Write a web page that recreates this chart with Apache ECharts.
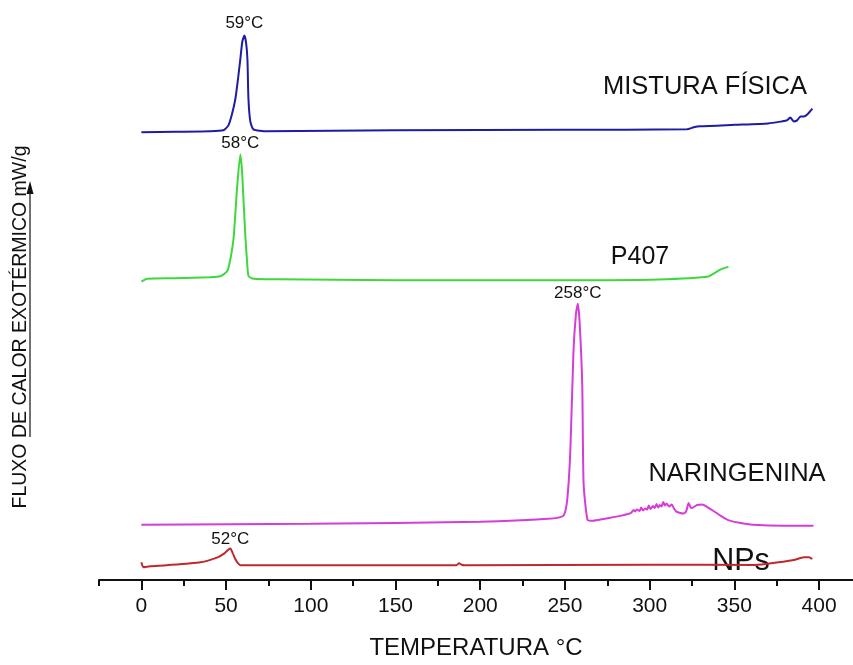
<!DOCTYPE html>
<html>
<head>
<meta charset="utf-8">
<script src="https://cdn.jsdelivr.net/npm/echarts@6/dist/echarts.min.js"></script>
<style>html,body{margin:0;padding:0;background:#fff}#c{width:853px;height:665px}</style>
</head>
<body>
<div id="c"></div>
<script>
// Temperature (°C) vs stacked heat-flow signal (arbitrary offset units)
var mistura = [[0,90.8],[20,90.9],[40,91.0],[48.4,91.2],[51.4,92.2],[53.5,94.5],[55.5,97.6],[57,101.5],[58.4,105.6],[59.6,109.2],[60.8,110.4],[61.8,109],[62.6,105.6],[63.2,97.6],[64.3,93.0],[66.1,91.4],[74,91.0],[150,91.2],[250,91.3],[322,91.4],[326,91.8],[330,92.0],[350,92.3],[370,92.6],[378,93.0],[381,93.2],[383,93.8],[385,93.0],[387,93.2],[389,94.0],[391,94.0],[393,94.4],[396,95.6]];
var p407 = [[0,60.5],[3.5,61.1],[20,61.2],[40,61.4],[46.6,61.6],[50.6,62.6],[52.5,65],[54.5,69.6],[56.5,79.6],[58.4,86.3],[59.4,83],[60.4,76.3],[61.4,69.6],[62.3,65],[63.3,61.6],[66.3,61.1],[80,61.0],[150,60.8],[250,60.8],[300,60.9],[334,61.5],[338,62.2],[342,63.0],[346.5,63.5]];
var naringenina = [[0,11.2],[100,11.4],[200,11.8],[240,12.4],[249,13.0],[251.3,16.2],[253.2,26.4],[255,46.2],[256.5,54],[257.6,56.0],[258.7,52],[260.2,39.6],[261,19.6],[263.3,12.2],[266.2,12.0],[270,12.2],[282.8,13.0],[289,13.6],[290.5,14.2],[291.5,13.9],[292.5,14.3],[294,14.0],[295,14.7],[296,14.1],[297.5,14.5],[298.5,14.3],[299.5,15.1],[300.5,14.4],[302,15.0],[303,14.6],[304,15.4],[305,14.7],[306,15.2],[307,14.9],[308,15.8],[309,15.1],[310,15.5],[311.5,14.9],[313,15.3],[314.5,14.4],[316,13.8],[318,13.6],[320,13.5],[321.5,13.9],[323,15.6],[324.5,14.6],[326,14.8],[328,15.2],[331,15.3],[334,14.8],[337.7,14.0],[342,13.0],[346,12.2],[353,11.6],[361,11.2],[380,11.0],[396.7,11.0]];
var nps = [[0,3.6],[1.2,2.6],[5,2.8],[15,3.0],[35,3.6],[45,4.6],[49,5.4],[51.5,6.2],[52.5,6.4],[54,5.4],[55.5,4.2],[57,3.4],[58.4,3.0],[100,3.0],[186,3.0],[187.5,3.4],[189,3.1],[191,3.0],[300,3.1],[362,3.06],[376,3.6],[385,4.06],[391,4.6],[394,4.6],[396,4.26]];
var seriesNames = ['MISTURA FÍSICA','P407','NARINGENINA','NPs'];
var peakLabels = ['59°C','58°C','258°C','52°C'];
var majorTicks = [0,50,100,150,200,250,300,350,400];
var minorTicks = [-25,25,75,125,175,225,275,325,375];

var FONT = 'Liberation Sans, Arial, sans-serif';
var colors = ['#1c1ca4','#3ed83e','#d63cd6','#c0282c'];
var dataSets = [mistura, p407, naringenina, nps];
var labelGaps = [4, 3, 2, 1];

var chart = echarts.init(document.getElementById('c'));
var series = dataSets.map(function (d, i) {
  return {
    type: 'line', name: seriesNames[i], data: d, xAxisIndex: 0, yAxisIndex: 0,
    showSymbol: false, smooth: 0.2, lineStyle: { color: colors[i], width: 2 },
    itemStyle: { color: colors[i] }, animation: false,
    markPoint: {
      symbol: 'circle', symbolSize: 0, animation: false,
      data: [{ type: 'max' }],
      label: { show: true, position: 'top', distance: labelGaps[i], formatter: peakLabels[i],
        color: '#111', fontSize: 17, fontFamily: FONT }
    }
  };
});

chart.setOption({
  backgroundColor: '#fff',
  animation: false,
  grid: { left: 99, right: 0, top: 8, bottom: 77 },
  xAxis: [{
    type: 'value', min: -25, max: 420, position: 'bottom',
    name: 'TEMPERATURA °C', nameLocation: 'middle', nameGap: 56,
    nameTextStyle: { fontSize: 24, color: '#111', fontFamily: FONT },
    axisLine: { show: true, lineStyle: { color: '#111', width: 2 } },
    axisTick: { show: true, length: 10, customValues: majorTicks, lineStyle: { color: '#111', width: 2 } },
    axisLabel: { show: true, customValues: majorTicks, margin: 16, fontSize: 21, color: '#111', fontFamily: FONT },
    splitLine: { show: false }
  }, {
    type: 'value', min: -25, max: 420, position: 'bottom', offset: 0,
    axisLine: { show: false },
    axisTick: { show: true, length: 6, customValues: minorTicks, lineStyle: { color: '#111', width: 2 } },
    axisLabel: { show: false },
    splitLine: { show: false }
  }],
  yAxis: { type: 'value', min: 0, max: 116, show: false },
  series: series,
  graphic: [
    { type: 'text', x: 21, y: 327, rotation: Math.PI / 2,
      style: { text: 'FLUXO DE CALOR EXOTÉRMICO mW/g', font: '19.5px ' + FONT, fill: '#111', align: 'center', verticalAlign: 'middle' } },
    { type: 'line', shape: { x1: 30, y1: 437, x2: 30, y2: 190 }, style: { stroke: '#111', lineWidth: 1.2 } },
    { type: 'polygon', shape: { points: [[30, 181], [26.5, 194], [33.5, 194]] }, style: { fill: '#111' } },
    { type: 'text', x: 705, y: 87, style: { text: seriesNames[0], font: '25.5px ' + FONT, fill: '#111', align: 'center', verticalAlign: 'middle' } },
    { type: 'text', x: 640, y: 257, style: { text: seriesNames[1], font: '25px ' + FONT, fill: '#111', align: 'center', verticalAlign: 'middle' } },
    { type: 'text', x: 737, y: 474, style: { text: seriesNames[2], font: '25.5px ' + FONT, fill: '#111', align: 'center', verticalAlign: 'middle' } },
    { type: 'text', x: 741, y: 562, style: { text: seriesNames[3], font: '30.5px ' + FONT, fill: '#111', align: 'center', verticalAlign: 'middle' } }
  ]
});
</script>
</body>
</html>
